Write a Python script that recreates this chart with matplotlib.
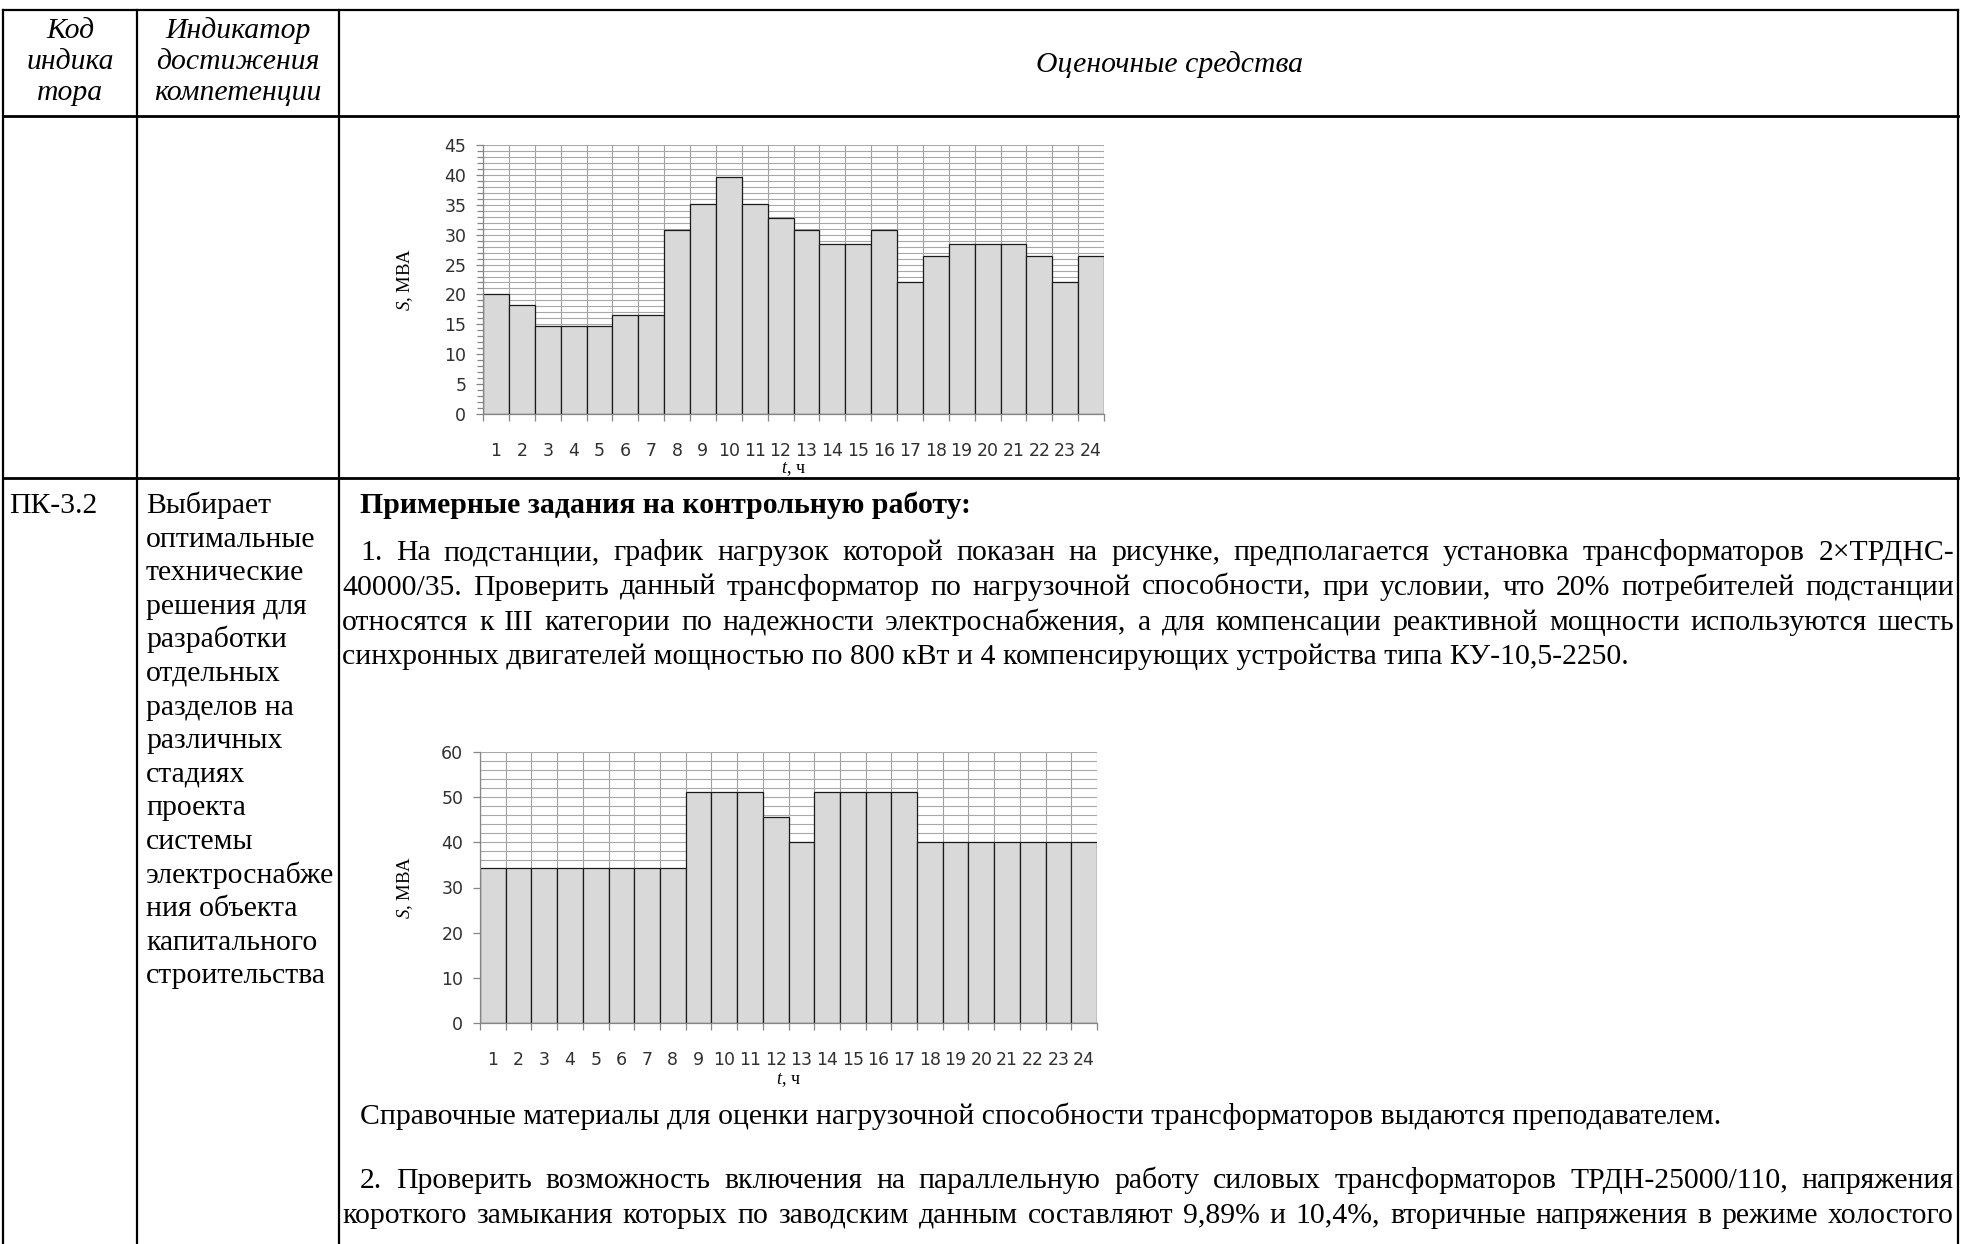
import matplotlib
matplotlib.use('Agg')
import matplotlib.pyplot as plt
from matplotlib.ticker import MultipleLocator, FixedLocator

plt.rcParams['font.family'] = ['Liberation Serif', 'DejaVu Serif']
plt.rcParams['mathtext.fontset'] = 'custom'
plt.rcParams['mathtext.it'] = 'Liberation Serif:italic'
plt.rcParams['mathtext.rm'] = 'Liberation Serif'

W, H = 1961, 1244

# --- data ---
hours = list(range(1, 25))
load_top = [20.0, 18.3, 14.7, 14.7, 14.7, 16.5, 16.5, 30.7, 35.2, 39.7, 35.2, 32.8,
            30.7, 28.5, 28.5, 30.7, 22.0, 26.4, 28.5, 28.5, 28.5, 26.4, 22.0, 26.4]
load_bottom = [34.3, 34.3, 34.3, 34.3, 34.3, 34.3, 34.3, 34.3, 51.2, 51.2, 51.2, 45.5,
               40.0, 51.2, 51.2, 51.2, 51.2, 40.0, 40.0, 40.0, 40.0, 40.0, 40.0, 40.0]
y_label = '$S$, МВА'
x_label = '$t$, ч'

# --- text of the table ---
head_code = ['Код', 'индика', 'тора']
head_ind = ['Индикатор', 'достижения', 'компетенции']
head_eval = 'Оценочные средства'
code_text = 'ПК-3.2'
ind_lines = ['Выбирает', 'оптимальные', 'технические', 'решения для', 'разработки',
             'отдельных', 'разделов на', 'различных', 'стадиях', 'проекта', 'системы',
             'электроснабже', 'ния объекта', 'капитального', 'строительства']
task_title = 'Примерные задания на контрольную работу:'
task1_lines = [
    '1. На подстанции, график нагрузок которой показан на рисунке, предполагается установка трансформаторов 2×ТРДНС-',
    '40000/35. Проверить данный трансформатор по нагрузочной способности, при условии, что 20% потребителей подстанции',
    'относятся к III категории по надежности электроснабжения, а для компенсации реактивной мощности используются шесть',
    'синхронных двигателей мощностью по 800 кВт и 4 компенсирующих устройства типа КУ-10,5-2250.',
]
ref_note = 'Справочные материалы для оценки нагрузочной способности трансформаторов выдаются преподавателем.'
task2_lines = [
    '2. Проверить возможность включения на параллельную работу силовых трансформаторов ТРДН-25000/110, напряжения',
    'короткого замыкания которых по заводским данным составляют 9,89% и 10,4%, вторичные напряжения в режиме холостого',
]

fig = plt.figure(figsize=(W / 100, H / 100), dpi=100)
page = fig.add_axes([0, 0, 1, 1])
page.set_xlim(0, W)
page.set_ylim(H, 0)
page.axis('off')
renderer = fig.canvas.get_renderer()


def width_of(s, **kw):
    t = page.text(0, 0, s, **kw)
    w = t.get_window_extent(renderer).width
    t.remove()
    return w


# body size: make the one-line note as wide as in the scan
fs = 20 * 1363 / width_of(ref_note, fontsize=20)

# table grid
X_L, X_C1, X_C2, X_R = 3, 137, 339, 1958
Y_T, Y_HEAD, Y_ROW = 10, 116, 478
lw = 1.6
page.plot([X_L, X_R], [Y_T, Y_T], color='black', lw=lw)
page.plot([X_L, X_R], [Y_HEAD, Y_HEAD], color='black', lw=lw + 0.4)
page.plot([X_L, X_R], [Y_ROW, Y_ROW], color='black', lw=lw + 0.4)
for x in (X_L, X_C1, X_C2, X_R):
    page.plot([x, x], [Y_T, H], color='black', lw=lw)

# header
for i, s in enumerate(head_code):
    page.text(70, 38 + 31 * i, s, fontsize=fs, style='italic', ha='center', va='baseline')
for i, s in enumerate(head_ind):
    page.text(238, 38 + 31 * i, s, fontsize=fs, style='italic', ha='center', va='baseline')
page.text(1170, 72, head_eval, fontsize=fs, style='italic', ha='center', va='baseline')

# second row, left columns
page.text(9, 513, code_text, fontsize=fs, va='baseline')
for i, s in enumerate(ind_lines):
    page.text(146, 513 + 33.6 * i, s, fontsize=fs, va='baseline')

LM, IND, RM = 342, 360, 1954


def justified(line, y, x0, x1, **kw):
    words = line.split(' ')
    ws = [width_of(w, fontsize=fs, **kw) for w in words]
    gap = (x1 - x0 - sum(ws)) / (len(words) - 1)
    x = x0
    for w, wd in zip(words, ws):
        page.text(x, y, w, fontsize=fs, ha='left', va='baseline', **kw)
        x += wd + gap


page.text(IND, 513, task_title, fontsize=fs, weight='bold', va='baseline')
for i, s in enumerate(task1_lines):
    y = 560 + 34.8 * i
    x0 = IND if i == 0 else LM
    if i < len(task1_lines) - 1:
        justified(s, y, x0, RM)
    else:
        page.text(x0, y, s, fontsize=fs, va='baseline')
page.text(IND, 1124, ref_note, fontsize=fs, va='baseline')
for i, s in enumerate(task2_lines):
    justified(s, 1188 + 34.8 * i, IND if i == 0 else LM, RM)


def load_chart(left, top, right, bottom, values, ymax, major, minor, minor_len, xlab_off):
    ax = fig.add_axes([left / W, 1 - bottom / H, (right - left) / W, (bottom - top) / H])
    ax.patch.set_alpha(0)
    ax.bar(hours, values, width=1.0, color='#d9d9d9', edgecolor='#1a1a1a', linewidth=0.9)
    ax.set_xlim(0.5, 24.5)
    ax.set_ylim(0, ymax)
    ax.set_xticks(hours)
    ax.set_xticklabels([str(h) for h in hours])
    ax.xaxis.set_minor_locator(FixedLocator([h + 0.5 for h in range(25)]))
    ax.yaxis.set_major_locator(MultipleLocator(major))
    ax.yaxis.set_minor_locator(MultipleLocator(minor))
    ax.set_axisbelow(True)
    ax.yaxis.grid(True, which='both', color='#a8a8a8', lw=0.8)
    ax.xaxis.grid(True, which='minor', color='#a0a0a0', lw=0.8)
    for s in ('top', 'right'):
        ax.spines[s].set_visible(False)
    for s in ('left', 'bottom'):
        ax.spines[s].set_color('#868686')
        ax.spines[s].set_linewidth(0.9)
    ax.tick_params(axis='x', which='major', length=0, pad=20, labelsize=12.5,
                   labelfontfamily='DejaVu Sans', labelcolor='#303030')
    ax.tick_params(axis='x', which='minor', length=5, color='#868686', width=0.9)
    ax.tick_params(axis='y', which='major', length=5, color='#868686', width=0.9, pad=7,
                   labelsize=12.5, labelfontfamily='DejaVu Sans', labelcolor='#303030')
    ax.tick_params(axis='y', which='minor', length=minor_len, color='#868686', width=0.9)
    ax.set_ylabel(y_label, fontsize=13.5)
    ax.yaxis.set_label_coords(-(left - 405) / (right - left), 0.5)
    ax.yaxis.label.set_va('center')
    ax.set_xlabel(x_label, fontsize=13)
    ax.xaxis.set_label_coords(0.5, -xlab_off / (bottom - top))
    ax.xaxis.label.set_va('center')
    return ax


load_chart(483, 145, 1104, 414, load_top, 45, 5, 1, 4, 55)
load_chart(480, 752, 1097, 1023, load_bottom, 60, 10, 2, 0, 57)

fig.savefig('out.png', dpi=100)
